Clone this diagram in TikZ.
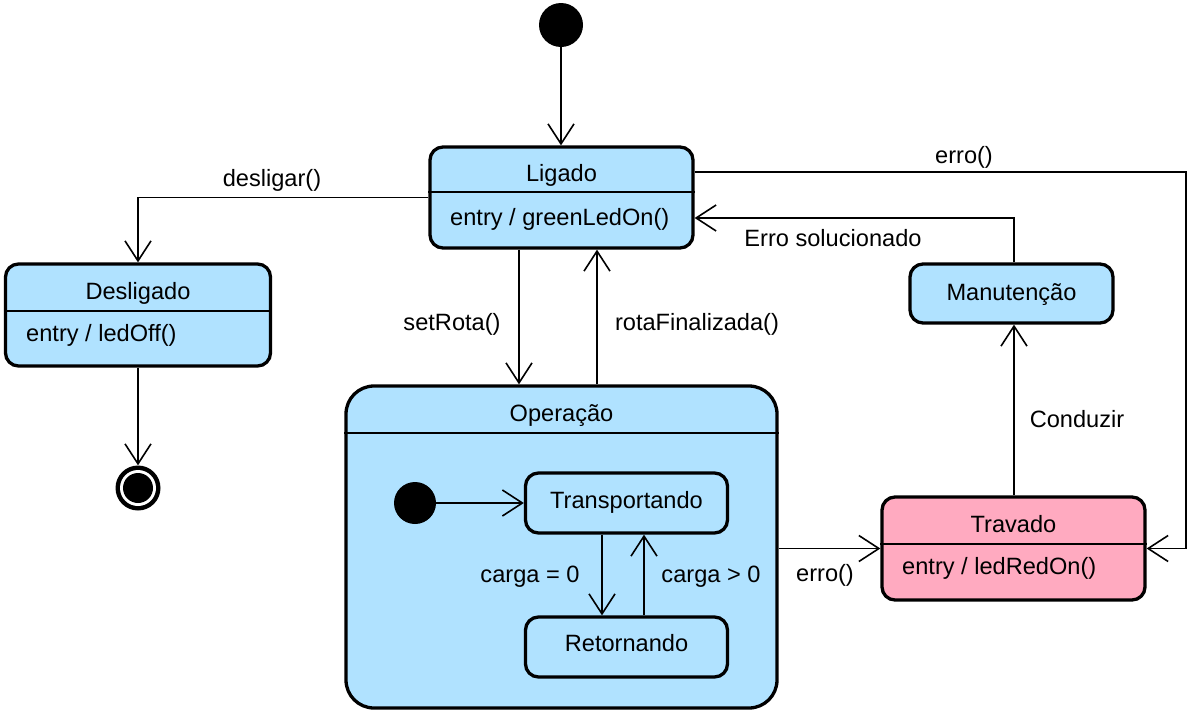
\documentclass[tikz,border=0pt]{standalone}
\usepackage{fontspec}
\setmainfont{Liberation Sans}
\usetikzlibrary{arrows.meta}
\definecolor{stblue}{RGB}{176,226,255}
\definecolor{stpink}{RGB}{255,170,192}
\begin{document}
\begin{tikzpicture}[x=1pt,y=-1pt,
  every node/.style={font=\fontsize{23.6}{28}\selectfont},
  state/.style={draw=black, line width=3.3pt, rounded corners=13pt, fill=stblue, inner sep=0pt},
  divider/.style={line width=1.5pt},
  lbl/.style={anchor=base, inner sep=0pt},
  entrytxt/.style={anchor=base west, inner sep=0pt},
  arr/.style={line width=1.6pt, -{Straight Barb[length=20pt,width=26pt]}},
  initst/.style={circle, fill=black, inner sep=0pt, minimum size=44pt}]
\useasboundingbox (0,0) rectangle (1190,715);

% states
\node[state, minimum width=263pt, minimum height=101pt] (Ligado) at (561.5,197.5) {};
\draw[divider] (Ligado.west |- 0,192) -- (Ligado.east |- 0,192);
\node[lbl] (tLigado) at (561.5,181) {Ligado};
\node[entrytxt] (eLigado) at (450,225) {entry / greenLedOn()};

\node[state, minimum width=265pt, minimum height=102pt] (Desligado) at (138,315) {};
\draw[divider] (Desligado.west |- 0,311) -- (Desligado.east |- 0,311);
\node[lbl] (tDesligado) at (138,299) {Desligado};
\node[entrytxt] (eDesligado) at (26,341) {entry / ledOff()};

\node[state, minimum width=203pt, minimum height=59pt] (Manut) at (1011.5,293.5) {};
\node[lbl] (tManut) at (1011.5,300) {Manutenção};

\node[state, fill=stpink, minimum width=263pt, minimum height=103pt] (Travado) at (1013.5,548.5) {};
\draw[divider] (Travado.west |- 0,544) -- (Travado.east |- 0,544);
\node[lbl] (tTravado) at (1013.5,532) {Travado};
\node[entrytxt] (eTravado) at (902,574) {entry / ledRedOn()};

\node[state, rounded corners=28pt, minimum width=431pt, minimum height=322pt] (Operacao) at (561.5,547) {};
\draw[divider] (Operacao.west |- 0,433) -- (Operacao.east |- 0,433);
\node[lbl] (tOperacao) at (561.5,421) {Operação};

\node[state, minimum width=202pt, minimum height=60pt] (Transp) at (626.5,503) {};
\node[lbl] (tTransp) at (626.5,508.5) {Transportando};
\node[state, minimum width=202pt, minimum height=60pt] (Retorn) at (626.5,647) {};
\node[lbl] (tRetorn) at (626.5,651) {Retornando};

% pseudo states
\node[initst] (init) at (561,25) {};
\node[initst, minimum size=42pt] (init2) at (415,503) {};
\node[circle, fill=black, inner sep=0pt, minimum size=45pt] (final) at (138,488) {};
\node[circle, fill=white, inner sep=0pt, minimum size=36pt] (finalgap) at (138,488) {};
\node[circle, fill=black, inner sep=0pt, minimum size=30pt] (finalin) at (138,488) {};

% transitions
\draw[arr] (init) -- (Ligado.north -| init);
\draw[arr] (Ligado.west) -| (Desligado.north);
\node[lbl] (ldesl) at (272,186) {desligar()};
\draw[arr] (Desligado.south) -- (final.north);

\draw[arr] (Ligado.south -| 519,0) -- (Operacao.north -| 519,0);
\node[lbl] (lset) at (452,330) {setRota()};
\draw[arr] (Operacao.north -| 597,0) -- (Ligado.south -| 597,0);
\node[lbl] (lrota) at (697,330) {rotaFinalizada()};

\draw[arr] (Ligado.east |- 0,172) -- (1186,172) |- (Travado.east);
\node[lbl] (lerro1) at (964,163) {erro()};

\draw[arr] (Manut.north -| 1014,0) |- (Ligado.east |- 0,218);
\node[lbl] (lsol) at (833,246) {Erro solucionado};

\draw[arr] (Travado.north -| 1014,0) -- (Manut.south -| 1014,0);
\node[lbl] (lcond) at (1077,427) {Conduzir};

\draw[arr] (Operacao.east |- Travado.west) -- (Travado.west);
\node[lbl] (lerro2) at (825,581) {erro()};

\draw[arr] (init2) -- (Transp.west);
\draw[arr] (Transp.south -| 602,0) -- (Retorn.north -| 602,0);
\node[lbl] (lc0) at (530,582) {carga = 0};
\draw[arr] (Retorn.north -| 644,0) -- (Transp.south -| 644,0);
\node[lbl] (lc1) at (711,582) {carga > 0};
\end{tikzpicture}
\end{document}
